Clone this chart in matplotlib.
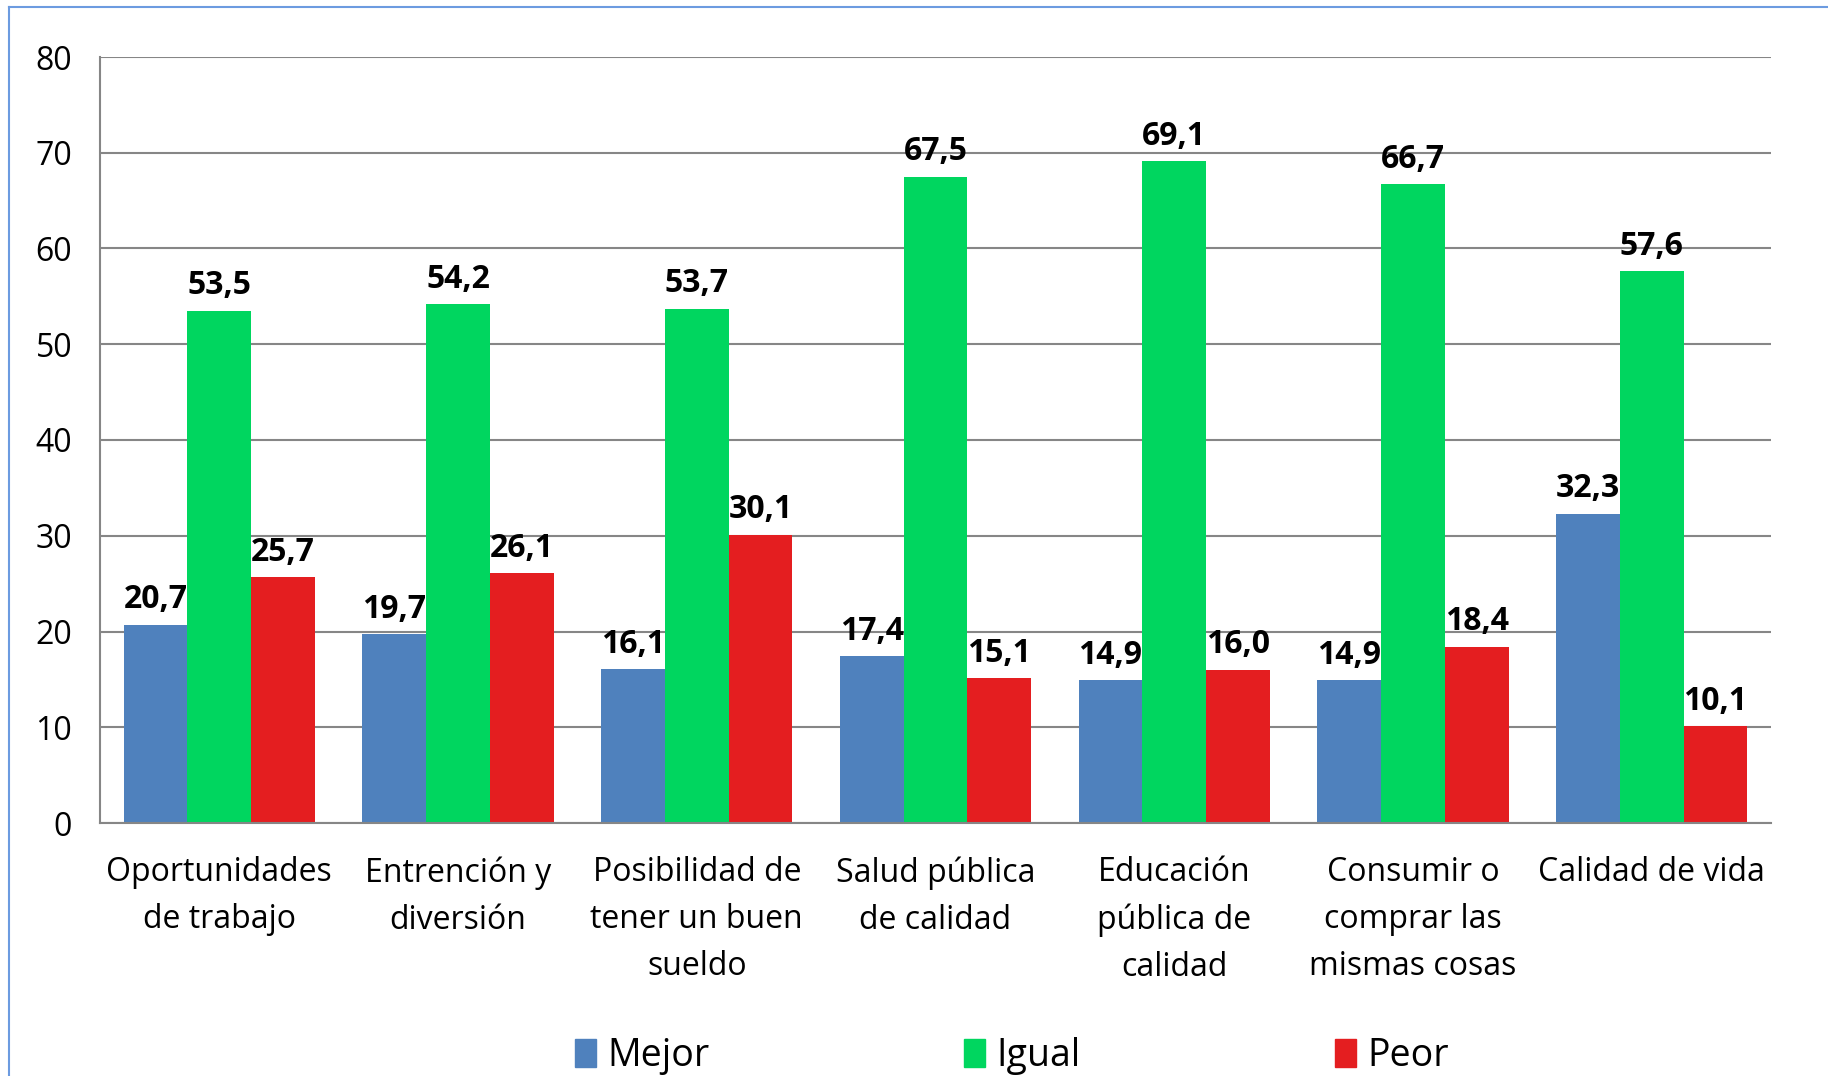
import matplotlib
matplotlib.use("Agg")
import matplotlib.pyplot as plt
from matplotlib.lines import Line2D
from matplotlib.patches import Patch
import numpy as np

categorias = ["Oportunidades\nde trabajo", "Entrención y\ndiversión",
              "Posibilidad de\ntener un buen\nsueldo", "Salud pública\nde calidad",
              "Educación\npública de\ncalidad", "Consumir o\ncomprar las\nmismas cosas",
              "Calidad de vida"]
mejor = [20.7, 19.7, 16.1, 17.4, 14.9, 14.9, 32.3]
igual = [53.5, 54.2, 53.7, 67.5, 69.1, 66.7, 57.6]
peor = [25.7, 26.1, 30.1, 15.1, 16.0, 18.4, 10.1]
series = ["Mejor", "Igual", "Peor"]
colores = ["#4F81BD", "#00D65F", "#E41E20"]

plt.rcParams['font.family'] = ['Open Sans', 'DejaVu Sans']

fig = plt.figure(figsize=(18.28, 10.76), dpi=100)
ax = fig.add_axes([100/1828, 1-823/1076, (1771-100)/1828, (823-57)/1076])

x = np.arange(len(categorias))
w = 0.267
for k, (vals, col) in enumerate(zip([mejor, igual, peor], colores)):
    pos = x + (k-1)*w
    ax.bar(pos, vals, width=w, color=col, zorder=2)
    for p, v in zip(pos, vals):
        ax.annotate(f"{v:.1f}".replace(".", ","), (p, v), xytext=(0, 6),
                    textcoords="offset points", ha="center", va="bottom",
                    fontsize=23, fontweight="bold", zorder=3)

ax.set_xlim(-0.5, len(categorias)-0.5)
ax.set_ylim(0, 80)
ax.set_yticks(range(0, 81, 10))
ax.yaxis.grid(True, color="#868686", linewidth=1.5, zorder=0)
ax.set_xticks(x)
ax.set_xticklabels(categorias, fontsize=23, linespacing=1.55)
ax.tick_params(axis="both", length=0, labelsize=23)
ax.tick_params(axis="y", pad=20)
ax.tick_params(axis="x", pad=24)
for s in ["top", "right"]:
    ax.spines[s].set_visible(False)
for s in ["left", "bottom"]:
    ax.spines[s].set_color("#868686")
    ax.spines[s].set_linewidth(1.5)

handles = [Patch(color=c) for c in colores]
fig.legend(handles, series, loc="center", bbox_to_anchor=(1012/1828, 1-1056/1076),
           ncol=3, frameon=False, fontsize=27, handlelength=0.55, handleheight=0.8,
           handletextpad=0.3, columnspacing=6.8)

# borde del cuadro
fig.add_artist(Line2D([9/1828, 9/1828], [0, 1-7/1076], color="#6C9BE0", linewidth=1.5))
fig.add_artist(Line2D([9/1828, 1], [1-7/1076, 1-7/1076], color="#6C9BE0", linewidth=1.5))

fig.savefig("out.png", dpi=100)
